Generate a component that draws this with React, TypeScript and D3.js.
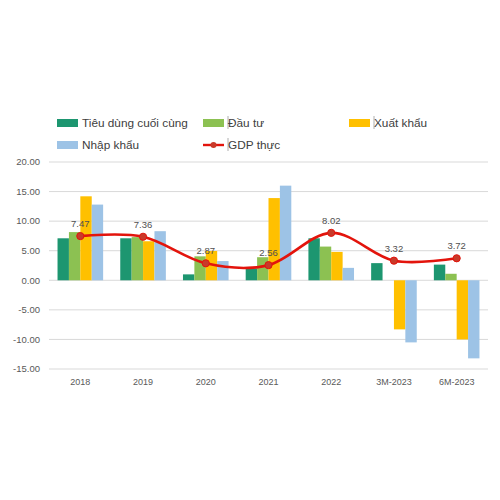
import React from "react";
import * as d3 from "d3";

const categories = ["2018", "2019", "2020", "2021", "2022", "3M-2023", "6M-2023"];
const consumption = [7.1, 7.1, 1.0, 2.0, 7.1, 2.9, 2.65];
const investment = [8.15, 7.3, 4.05, 3.9, 5.7, 0, 1.1];
const exports = [14.2, 6.6, 4.95, 13.9, 4.8, -8.3, -10.0];
const imports = [12.8, 8.3, 3.25, 16.0, 2.1, -10.5, -13.2];
const gdp = [7.47, 7.36, 2.87, 2.56, 8.02, 3.32, 3.72];
const yTicks = [-15, -10, -5, 0, 5, 10, 15, 20];

const seriesNames = ["Tiêu dùng cuối cùng", "Đầu tư", "Xuất khẩu", "Nhập khẩu"];
const seriesColors = ["#1d9670", "#8cc152", "#ffc000", "#9dc3e6"];
const gdpName = "GDP thực";

export default function App() {
  const left = 49, right = 488, top = 162, bottom = 369;
  const x = d3.scaleBand<string>().domain(categories).range([left, right]).paddingInner(0.273).paddingOuter(0.136);
  const y = d3.scaleLinear().domain([-15, 20]).range([bottom, top]);
  const series = [consumption, investment, exports, imports];
  const x1 = d3.scaleBand<number>().domain([0, 1, 2, 3]).range([0, x.bandwidth()]);
  const cx = (c: string) => (x(c) as number) + x.bandwidth() / 2;
  const line = d3
    .line<number>()
    .x((_, i) => cx(categories[i]))
    .y((d) => y(d))
    .curve(d3.curveCatmullRom.alpha(0));
  const font = "'Liberation Sans', Arial, sans-serif";
  const legend = [
    { name: seriesNames[0], color: seriesColors[0], x: 57, y: 123, bar: true, mark: false },
    { name: seriesNames[1], color: seriesColors[1], x: 203, y: 123, bar: true, mark: true },
    { name: seriesNames[2], color: seriesColors[2], x: 349, y: 123, bar: true, mark: true },
    { name: seriesNames[3], color: seriesColors[3], x: 57, y: 145, bar: true, mark: false },
    { name: gdpName, color: "#e3140c", x: 203, y: 145, bar: false, mark: true },
  ];
  return (
    <svg width={500} height={500} style={{ position: "absolute", left: 0, top: 0, background: "#fff" }} fontFamily={font}>
      {yTicks.map((t) => (
        <g key={t}>
          <line x1={left} x2={right} y1={y(t)} y2={y(t)} stroke="#d9d9d9" strokeWidth={1} />
          <text x={40} y={y(t)} dy="0.35em" textAnchor="end" fontSize={9.5} fill="#595959">
            {t.toFixed(2)}
          </text>
        </g>
      ))}
      {categories.map((c, i) => (
        <g key={c}>
          {series.map((s, k) => {
            const v = s[i];
            const bx = (x(c) as number) + (x1(k) as number);
            return (
              <rect
                key={k}
                x={bx}
                width={x1.bandwidth()}
                y={Math.min(y(v), y(0))}
                height={Math.abs(y(v) - y(0))}
                fill={seriesColors[k]}
              />
            );
          })}
          <text x={cx(c)} y={385} textAnchor="middle" fontSize={9} fill="#595959">
            {c}
          </text>
        </g>
      ))}
      <path d={line(gdp) || ""} fill="none" stroke="#e3140c" strokeWidth={2.6} />
      {gdp.map((v, i) => (
        <g key={i}>
          <circle cx={cx(categories[i])} cy={y(v)} r={3.6} fill="#c83a2a" stroke="#e3140c" strokeWidth={1} />
          <text x={cx(categories[i])} y={y(v) - 9} textAnchor="middle" fontSize={9.5} fill="#505050">
            {v.toFixed(2)}
          </text>
        </g>
      ))}
      {legend.map((l) => (
        <g key={l.name}>
          {l.bar ? (
            <rect x={l.x} y={l.y - 4} width={21} height={8} fill={l.color} />
          ) : (
            <g>
              <line x1={l.x} x2={l.x + 21} y1={l.y} y2={l.y} stroke={l.color} strokeWidth={2.4} />
              <circle cx={l.x + 10.5} cy={l.y} r={3} fill="#c83a2a" />
            </g>
          )}
          {l.mark && <line x1={l.x + 25} x2={l.x + 25} y1={l.y - 7} y2={l.y + 6} stroke="#9a9a9a" strokeWidth={0.8} />}
          <text x={l.x + 25} y={l.y} dy="0.35em" fontSize={11.8} fill="#404040">
            {l.name}
          </text>
        </g>
      ))}
    </svg>
  );
}
